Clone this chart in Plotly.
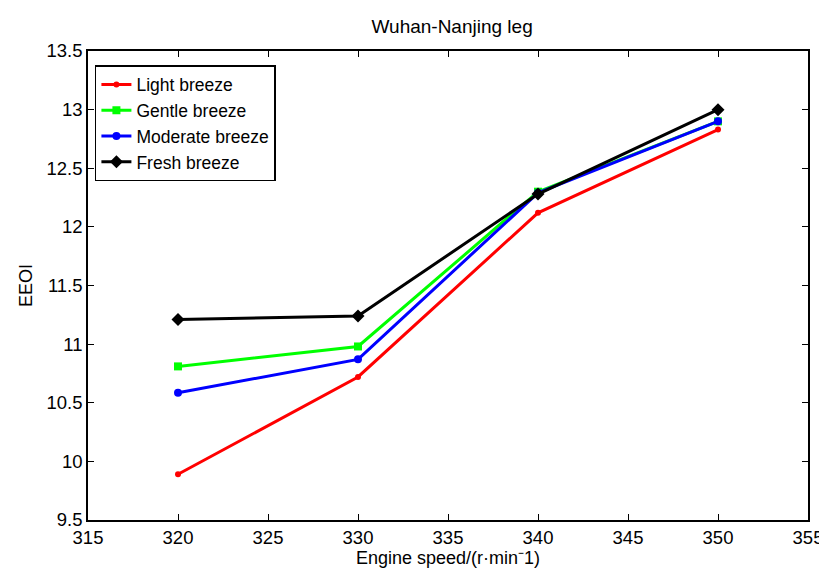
import plotly.graph_objects as go

engine_speed = [320, 330, 340, 350]
light_breeze = [9.89, 10.72, 12.12, 12.83]
gentle_breeze = [10.81, 10.98, 12.30, 12.90]
moderate_breeze = [10.585, 10.87, 12.29, 12.90]
fresh_breeze = [11.21, 11.24, 12.28, 13.00]

x_ticks = [315, 320, 325, 330, 335, 340, 345, 350, 355]
y_ticks = [9.5, 10, 10.5, 11, 11.5, 12, 12.5, 13, 13.5]
y_tick_labels = ["9.5", "10", "10.5", "11", "11.5", "12", "12.5", "13", "13.5"]

series = [
    ("Light breeze", light_breeze, "#ff0000", "circle", 6),
    ("Gentle breeze", gentle_breeze, "#00ff00", "square", 8),
    ("Moderate breeze", moderate_breeze, "#0000ff", "circle", 8),
    ("Fresh breeze", fresh_breeze, "#000000", "diamond", 10),
]

FONT = "Liberation Sans, Arial, sans-serif"

fig = go.Figure()
for name, vals, color, sym, size in series:
    fig.add_trace(go.Scatter(
        x=engine_speed, y=vals, name=name, mode="lines+markers",
        line=dict(color=color, width=3),
        marker=dict(color=color, symbol=sym, size=size),
    ))

axis_common = dict(
    showline=True, linecolor="black", linewidth=1.5, mirror="allticks",
    ticks="inside", ticklen=6, tickcolor="black", showgrid=False, zeroline=False,
    tickfont=dict(family=FONT, size=18.5, color="black"),
)

fig.update_layout(
    width=827, height=569,
    margin=dict(l=80, r=18, t=43, b=56),
    paper_bgcolor="white", plot_bgcolor="white",
    title=dict(text="Wuhan-Nanjing leg", x=0.537, y=0.968, xanchor="center", yanchor="middle",
               font=dict(family=FONT, size=19, color="black")),
    xaxis=dict(range=[315, 355], tickvals=x_ticks,
               title=dict(text="Engine speed/(r·min⁻1)", standoff=4,
                          font=dict(family=FONT, size=18, color="black")),
               **axis_common),
    yaxis=dict(range=[9.5, 13.5], tickvals=y_ticks, ticktext=y_tick_labels,
               title=dict(text="EEOI", standoff=9,
                          font=dict(family=FONT, size=18, color="black")),
               **axis_common),
    legend=dict(x=0.0096, y=0.970, xanchor="left", yanchor="top",
                bgcolor="white", bordercolor="black", borderwidth=1.5,
                font=dict(family=FONT, size=17.5, color="black"),
                tracegroupgap=0, itemwidth=30),
    showlegend=True,
)

fig.write_html("out.html")
